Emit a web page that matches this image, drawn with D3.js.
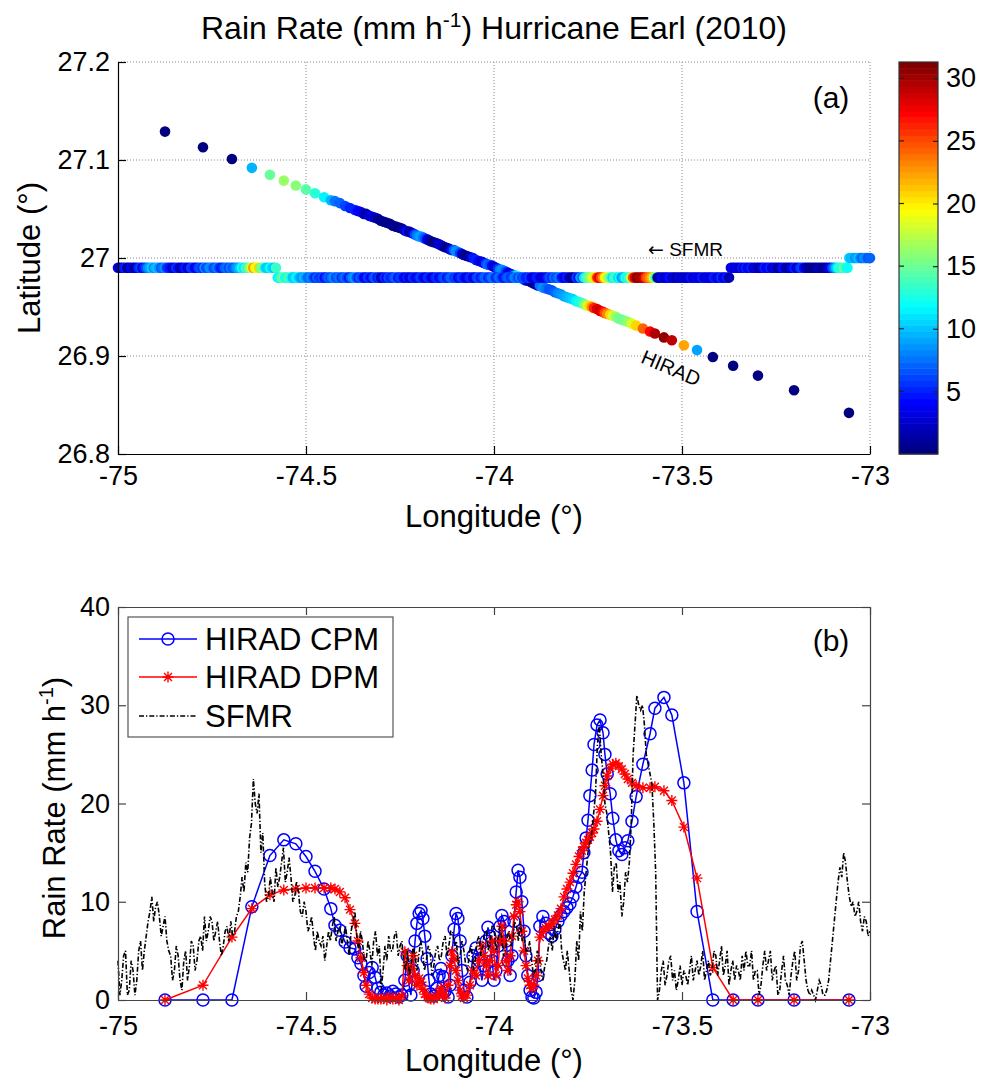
<!DOCTYPE html>
<html>
<head>
<meta charset="utf-8">
<script src="https://cdn.jsdelivr.net/npm/d3@7"></script>
<style>
body { margin: 0; background: #fff; }
text { font-family: "Liberation Sans", Arial, sans-serif; fill: #000; }
</style>
</head>
<body>
<svg width="985" height="1078"></svg>
<script>
var svg = d3.select("svg");

// HIRAD samples along the flight track
var hiradLon = [-74.875, -74.774, -74.697, -74.644, -74.596, -74.559, -74.527, -74.500, -74.476, -74.452,
    -74.434, -74.423, -74.410, -74.396, -74.383, -74.370, -74.362, -74.354, -74.346, -74.340,
    -74.332, -74.324, -74.316, -74.309, -74.301, -74.293, -74.285, -74.277, -74.269, -74.261,
    -74.253, -74.245, -74.237, -74.231, -74.226, -74.221, -74.215, -74.210, -74.205, -74.199,
    -74.194, -74.189, -74.184, -74.178, -74.173, -74.168, -74.160, -74.152, -74.146, -74.141,
    -74.136, -74.130, -74.122, -74.117, -74.112, -74.106, -74.101, -74.096, -74.090, -74.085,
    -74.080, -74.072, -74.064, -74.056, -74.048, -74.040, -74.032, -74.027, -74.021, -74.016,
    -74.011, -74.005, -74.000, -73.995, -73.989, -73.984, -73.979, -73.973, -73.968, -73.963,
    -73.957, -73.952, -73.947, -73.941, -73.936, -73.931, -73.926, -73.920, -73.915, -73.910,
    -73.904, -73.899, -73.894, -73.888, -73.883, -73.878, -73.870, -73.862, -73.854, -73.846,
    -73.838, -73.830, -73.822, -73.814, -73.806, -73.798, -73.790, -73.782, -73.774, -73.766,
    -73.761, -73.755, -73.750, -73.745, -73.739, -73.734, -73.726, -73.718, -73.710, -73.705,
    -73.699, -73.691, -73.684, -73.676, -73.668, -73.660, -73.652, -73.644, -73.633, -73.622,
    -73.604, -73.585, -73.572, -73.548, -73.527, -73.495, -73.460, -73.418, -73.364, -73.298,
    -73.202, -73.056];

var hiradLat = [27.129, 27.113, 27.101, 27.092, 27.085, 27.079, 27.074, 27.070, 27.066, 27.062,
    27.059, 27.058, 27.056, 27.053, 27.051, 27.049, 27.048, 27.047, 27.045, 27.045,
    27.043, 27.042, 27.041, 27.040, 27.038, 27.037, 27.036, 27.035, 27.033, 27.032,
    27.031, 27.030, 27.028, 27.027, 27.027, 27.026, 27.025, 27.024, 27.023, 27.022,
    27.022, 27.021, 27.020, 27.019, 27.018, 27.017, 27.016, 27.015, 27.014, 27.013,
    27.012, 27.011, 27.010, 27.009, 27.008, 27.008, 27.007, 27.006, 27.005, 27.004,
    27.003, 27.002, 27.001, 27.000, 26.998, 26.997, 26.996, 26.995, 26.994, 26.993,
    26.993, 26.992, 26.991, 26.990, 26.989, 26.988, 26.988, 26.987, 26.986, 26.985,
    26.984, 26.983, 26.982, 26.982, 26.981, 26.980, 26.979, 26.978, 26.977, 26.977,
    26.976, 26.975, 26.974, 26.973, 26.972, 26.972, 26.970, 26.969, 26.968, 26.967,
    26.965, 26.964, 26.963, 26.961, 26.960, 26.959, 26.958, 26.956, 26.955, 26.954,
    26.953, 26.952, 26.951, 26.951, 26.950, 26.949, 26.948, 26.946, 26.945, 26.944,
    26.943, 26.942, 26.941, 26.940, 26.938, 26.937, 26.936, 26.935, 26.933, 26.931,
    26.928, 26.925, 26.923, 26.919, 26.916, 26.911, 26.906, 26.899, 26.890, 26.880,
    26.865, 26.842];

var hiradCPM = [0, 0, 0, 9.5, 14.7, 16.3, 15.9, 14.6, 13.1, 11.3,
    9.3, 7.6, 7.1, 5.9, 5.3, 5.2, 4.3, 3.7, 2.5, 1.4,
    2.8, 3.3, 2.3, 1.2, 0.8, 0.5, 0.7, 0.4, 0.9, 0.6,
    0.3, 0.5, 2.0, 4.5, 1.5, 0.5, 3.0, 6.0, 7.8, 8.8,
    9.1, 8.3, 6.5, 4.2, 2.0, 0.6, 0.4, 1.2, 2.5, 3.2,
    2.4, 0.9, 0.3, 1.5, 4.5, 7.2, 8.8, 8.3, 6.0, 3.0,
    1.0, 0.3, 1.8, 4.5, 5.3, 4.0, 2.0, 3.5, 6.0, 7.4,
    6.5, 4.0, 2.0, 3.0, 5.5, 7.5, 8.6, 8.0, 6.0, 4.0,
    2.5, 4.5, 8.0, 11.0, 13.2, 12.5, 10.0, 7.0, 4.5, 2.5,
    1.0, 0.3, 0.2, 0.8, 2.5, 7.5, 8.5, 7.8, 6.8, 6.5,
    7.2, 8.0, 8.6, 9.0, 9.4, 9.8, 10.5, 11.5, 12.5, 13.0,
    15.0, 16.5, 18.3, 20.8, 23.4, 26.0, 28.0, 28.5, 27.2, 25.0,
    23.0, 21.0, 18.5, 16.3, 15.2, 14.8, 15.5, 16.2, 18.2, 20.7,
    24.0, 27.1, 29.7, 30.8, 29.0, 22.1, 9.0, 0, 0, 0,
    0, 0];

var hiradDPM = [0, 1.5, 6.4, 9.3, 10.7, 11.2, 11.3, 11.4, 11.4, 11.4,
    11.4, 11.3, 11.0, 10.4, 9.2, 7.8, 6.0, 4.3, 2.8, 1.5,
    0.6, 0.2, 0.1, 0.1, 0.1, 0.2, 0, 0.3, 0.1, 0.2,
    0, 0.4, 4.9, 3.5, 2.0, 3.2, 4.5, 2.5, 1.5, 2.2,
    1.8, 1.1, 0.6, 0.3, 0.2, 0.1, 0.1, 0.3, 0.8, 1.2,
    0.6, 0.2, 1.5, 3.5, 4.9, 4.2, 3.0, 2.0, 1.0, 0.4,
    0.2, 0.5, 1.5, 3.0, 2.5, 4.0, 5.5, 4.5, 3.5, 2.5,
    4.0, 6.0, 5.0, 2.5, 3.5, 6.0, 7.5, 6.0, 4.0, 3.0,
    4.5, 6.5, 8.5, 9.7, 10.0, 9.0, 7.0, 5.0, 3.5, 2.2,
    1.5, 1.2, 1.5, 2.5, 4.0, 6.4, 7.0, 7.3, 7.5, 7.8,
    8.2, 8.6, 9.3, 10.5, 11.3, 12.0, 12.9, 13.8, 14.6, 15.2,
    15.6, 16.0, 16.3, 16.6, 17.0, 17.4, 18.2, 19.4, 20.8, 21.8,
    22.8, 23.6, 24.0, 24.1, 23.8, 23.5, 23.0, 22.5, 22.1, 21.8,
    21.6, 21.6, 21.7, 21.3, 20.3, 17.6, 12.4, 3.3, 0, 0,
    0, 0];

// SFMR rain rate every 0.005 deg of longitude, from -75 to -73
var sfmrRain = [4, 0.5, 2, 4.5, 5, 0.5, 1, 4, 3, 0.5, 2, 5, 6, 3, 5, 6.5, 8, 9, 10.5, 8,
    9.5, 10, 8.5, 6.5, 7.5, 8.5, 6, 5, 4.5, 2, 3, 5.5, 4.5, 2, 1, 4, 5, 2, 3.5, 6,
    5.5, 3, 4, 6, 6.5, 5, 8.5, 6, 7, 8.5, 8, 6, 7, 8, 6, 4.5, 5.5, 7, 7.5, 6,
    8, 6.5, 7, 8.5, 9, 10.5, 12.5, 11, 14, 13, 16.5, 18, 22.5, 20, 19, 21, 15, 17, 12, 10,
    10.5, 12.5, 11, 10, 13.5, 11.5, 12.5, 14, 15.5, 12, 13, 14.5, 12.5, 10, 10.5, 12, 11, 9, 8.5, 10,
    9, 7, 7.5, 8.5, 6.5, 5, 7, 6, 5.5, 6.5, 4, 5.5, 7, 6, 7.5, 8.5, 6, 7, 7.5, 5.5,
    6.5, 7.5, 6, 4.5, 7, 8, 9, 6.5, 5, 7, 6, 4, 4, 6, 5, 3.5, 6, 7, 4.5, 5.5,
    1, 3, 5.5, 4, 6.5, 5, 5, 6.5, 7, 4.5, 5.5, 6, 4, 3, 5, 2.5, 3.5, 5.5, 4.5, 3,
    4.5, 6, 5, 3, 4, 5.5, 5, 2.5, 3.5, 5, 5.5, 4, 4.5, 6, 6.5, 4.5, 5.5, 7, 7, 5.5,
    6, 3.5, 4.5, 6, 5, 3.5, 3, 5, 5.5, 3, 4, 6, 6.5, 4.5, 5.5, 7, 7, 5, 6, 7.5,
    7.5, 5, 6, 7.5, 6.5, 4.5, 5, 6.5, 7, 5.5, 6, 8, 7.5, 6, 8, 6, 6.5, 5, 5, 6,
    4, 2.5, 3, 5, 4.5, 3, 2, 3.5, 4, 5.5, 6.5, 5, 7.5, 6, 7, 8, 5, 4, 3, 5,
    3, 1, 0, 2, 6, 4, 9, 7, 11, 13, 15, 16, 17, 19, 21, 26, 28, 25, 23, 20,
    19, 17, 15, 11, 13.5, 14, 11, 12, 8.5, 10, 13, 12, 14, 18, 25, 28, 31, 30, 29.5, 30,
    28, 25, 24, 23, 22, 18, 13, 0, 1, 3, 4, 1.5, 2.5, 4, 4.5, 2, 3, 1, 2, 3.5,
    1.5, 3, 2.5, 1.5, 3, 4.5, 2, 3, 4, 2.5, 3.5, 5, 2, 3, 4, 2.5, 3, 5, 4.5, 2.5,
    4, 5.5, 2.5, 3.5, 5, 1.5, 3, 4, 2, 3.5, 3, 2, 4.5, 3, 5, 3.5, 3.5, 5, 2, 3,
    3, 0.5, 1.5, 3.5, 5, 3, 4, 5, 2, 3, 3.5, 0.5, 1, 3, 4.5, 2, 1.5, 0.5, 2.5, 4,
    5, 2, 3, 5.5, 6, 4, 2, 1, 0.5, 1, 0.5, 0, 1, 2, 1.5, 0.5, 0.5, 1, 2, 4,
    6, 8, 10, 12, 13.5, 12.5, 15, 14, 12, 10.5, 9.5, 10, 8.5, 9, 10, 8, 7, 8.5, 8, 6.5,
    7];
var sfmrLonStart = -75;
var sfmrLonStep = 0.005;
// SFMR track latitude: start longitude of each level leg
var sfmrLegLon = [-75, -74.575, -73.37, -73.055];
var sfmrLegLat = [26.99, 26.98, 26.99, 27.0];

var lonTicks = [-75, -74.5, -74, -73.5, -73];
var latTicks = [26.8, 26.9, 27, 27.1, 27.2];
var rainTicks = [0, 10, 20, 30, 40];
var cbarTicks = [5, 10, 15, 20, 25, 30];
var cbarMax = 31.3;

var sfmrLon = sfmrRain.map(function (d, i) { return +(sfmrLonStart + i * sfmrLonStep).toFixed(3); });
var legIndex = d3.bisector(function (d) { return d; }).right;
var sfmrLat = sfmrLon.map(function (lon) { return sfmrLegLat[Math.max(0, legIndex(sfmrLegLon, lon + 1e-9) - 1)]; });

var FONT = '"Liberation Sans", Arial, sans-serif';

// matlab jet, 64 levels
function jet(t) {
    var c = function (v) { return Math.max(0, Math.min(1, v)); };
    return d3.rgb(255 * c(Math.min(4 * t - 1.5, -4 * t + 4.5)),
                  255 * c(Math.min(4 * t - 0.5, -4 * t + 3.5)),
                  255 * c(Math.min(4 * t + 0.5, -4 * t + 2.5))).formatHex();
}
var jet64 = d3.range(64).map(function (k) { return jet(k / 63); });
var color = d3.scaleQuantize().domain([0, cbarMax]).range(jet64);

function styleAxis(g, size, stroke) {
    g.attr("font-size", size).attr("font-family", FONT);
    g.selectAll("path, line").attr("stroke", stroke).attr("stroke-width", 1.2);
    g.selectAll("text").attr("fill", "#000");
}

// ---------------- panel (a) ----------------
var x1 = d3.scaleLinear().domain([-75, -73]).range([118, 870]);
var y1 = d3.scaleLinear().domain([26.8, 27.2]).range([454, 62]);
var g1 = svg.append("g");

g1.selectAll(".vgrid").data(lonTicks.slice(1)).enter().append("line")
    .attr("x1", function (d) { return x1(d); }).attr("x2", function (d) { return x1(d); })
    .attr("y1", 62).attr("y2", 454)
    .attr("stroke", "#888").attr("stroke-width", 1).attr("stroke-dasharray", "1,2");
g1.selectAll(".hgrid").data(latTicks.slice(1)).enter().append("line")
    .attr("x1", 118).attr("x2", 870)
    .attr("y1", function (d) { return y1(d); }).attr("y2", function (d) { return y1(d); })
    .attr("stroke", "#888").attr("stroke-width", 1).attr("stroke-dasharray", "1,2");

g1.selectAll(".hirad").data(d3.range(hiradLon.length)).enter().append("circle")
    .attr("cx", function (i) { return x1(hiradLon[i]); })
    .attr("cy", function (i) { return y1(hiradLat[i]); })
    .attr("r", 5.3)
    .attr("fill", function (i) { return color(hiradCPM[i]); });

g1.selectAll(".sfmr").data(d3.range(sfmrLon.length)).enter().append("circle")
    .attr("cx", function (i) { return x1(sfmrLon[i]); })
    .attr("cy", function (i) { return y1(sfmrLat[i]); })
    .attr("r", 5.3)
    .attr("fill", function (i) { return color(sfmrRain[i]); });

var ax1 = g1.append("g").attr("transform", "translate(0,454)")
    .call(d3.axisBottom(x1).tickValues(lonTicks).tickSize(-8).tickSizeOuter(0).tickPadding(12).tickFormat(String));
styleAxis(ax1, 27, "#000");
var ay1 = g1.append("g").attr("transform", "translate(118,0)")
    .call(d3.axisLeft(y1).tickValues(latTicks).tickSize(-8).tickSizeOuter(0).tickPadding(8).tickFormat(String));
styleAxis(ay1, 27, "#000");

g1.append("text").attr("x", 494).attr("y", 527).attr("text-anchor", "middle")
    .attr("font-size", 31).text("Longitude (\u00b0)");
g1.append("text").attr("transform", "translate(40,258) rotate(-90)").attr("text-anchor", "middle")
    .attr("font-size", 31).text("Latitude (\u00b0)");
g1.append("text").attr("x", 831).attr("y", 108).attr("text-anchor", "middle")
    .attr("font-size", 30).text("(a)");
var sfLab = g1.append("text").attr("x", 648).attr("y", 256).attr("font-size", 19);
sfLab.append("tspan").attr("font-family", '"DejaVu Sans", sans-serif').text("\u2190");
sfLab.append("tspan").text(" SFMR");
g1.append("text").attr("transform", "translate(671,368) rotate(23)").attr("text-anchor", "middle")
    .attr("dy", "0.35em").attr("font-size", 20).text("HIRAD");

var title = svg.append("text").attr("x", 494).attr("y", 39).attr("text-anchor", "middle").attr("font-size", 32);
title.append("tspan").text("Rain Rate (mm h");
title.append("tspan").text("-1").attr("font-size", 21).attr("dy", -12);
title.append("tspan").text(") Hurricane Earl (2010)").attr("dy", 12);

// colorbar
var yc = d3.scaleLinear().domain([0, cbarMax]).range([454, 62]);
var cb = svg.append("g");
cb.selectAll("rect").data(jet64).enter().append("rect")
    .attr("x", 899).attr("width", 39)
    .attr("y", function (d, k) { return yc((k + 1) * cbarMax / 64); })
    .attr("height", function (d, k) { return yc(k * cbarMax / 64) - yc((k + 1) * cbarMax / 64) + 0.5; })
    .attr("fill", function (d) { return d; });
cb.append("rect").attr("x", 899).attr("y", 62).attr("width", 39).attr("height", 392)
    .attr("fill", "none").attr("stroke", "#333").attr("stroke-width", 1.2);
var acb = cb.append("g").attr("transform", "translate(938,0)")
    .call(d3.axisRight(yc).tickValues(cbarTicks).tickSize(-5).tickSizeOuter(0).tickPadding(8).tickFormat(String));
styleAxis(acb, 27, "#222");
acb.select(".domain").remove();
cb.selectAll(".ltick").data(cbarTicks).enter().append("line")
    .attr("x1", 899).attr("x2", 904)
    .attr("y1", function (d) { return yc(d); }).attr("y2", function (d) { return yc(d); })
    .attr("stroke", "#222").attr("stroke-width", 1.2);

// ---------------- panel (b) ----------------
var x2 = d3.scaleLinear().domain([-75, -73]).range([118, 870]);
var y2 = d3.scaleLinear().domain([0, 40]).range([1000, 607]);
var g2 = svg.append("g");
var idx = d3.range(hiradLon.length);

var lineCPM = d3.line().x(function (i) { return x2(hiradLon[i]); }).y(function (i) { return y2(hiradCPM[i]); });
var lineDPM = d3.line().x(function (i) { return x2(hiradLon[i]); }).y(function (i) { return y2(hiradDPM[i]); });
var lineSFMR = d3.line().x(function (d, i) { return x2(sfmrLon[i]); }).y(function (d) { return y2(d); });

function asterisk(s) {
    var d = s * 0.72;
    return "M" + (-s) + ",0L" + s + ",0M0," + (-s) + "L0," + s +
        "M" + (-d) + "," + (-d) + "L" + d + "," + d + "M" + (-d) + "," + d + "L" + d + "," + (-d);
}

g2.append("path").attr("d", lineCPM(idx)).attr("fill", "none").attr("stroke", "#0000ff").attr("stroke-width", 1.5);
g2.selectAll(".cpm").data(idx).enter().append("circle")
    .attr("cx", function (i) { return x2(hiradLon[i]); })
    .attr("cy", function (i) { return y2(hiradCPM[i]); })
    .attr("r", 6).attr("fill", "none").attr("stroke", "#0000ff").attr("stroke-width", 1.5);

g2.append("path").attr("d", lineDPM(idx)).attr("fill", "none").attr("stroke", "#ff0000").attr("stroke-width", 1.5);
g2.selectAll(".dpm").data(idx).enter().append("path")
    .attr("transform", function (i) { return "translate(" + x2(hiradLon[i]) + "," + y2(hiradDPM[i]) + ")"; })
    .attr("d", asterisk(5.5)).attr("fill", "none").attr("stroke", "#ff0000").attr("stroke-width", 1.4);

g2.append("path").attr("d", lineSFMR(sfmrRain)).attr("fill", "none").attr("stroke", "#000")
    .attr("stroke-width", 1.6).attr("stroke-dasharray", "5,2,1.3,2");

var ax2 = g2.append("g").attr("transform", "translate(0,1000)")
    .call(d3.axisBottom(x2).tickValues(lonTicks).tickSize(-8).tickSizeOuter(0).tickPadding(16).tickFormat(String));
styleAxis(ax2, 27, "#444");
var ax2t = g2.append("g").attr("transform", "translate(0,607)")
    .call(d3.axisTop(x2).tickValues(lonTicks).tickSize(-8).tickSizeOuter(0).tickFormat(""));
styleAxis(ax2t, 27, "#444");
var ay2 = g2.append("g").attr("transform", "translate(118,0)")
    .call(d3.axisLeft(y2).tickValues(rainTicks).tickSize(-8).tickSizeOuter(0).tickPadding(8).tickFormat(String));
styleAxis(ay2, 27, "#444");
var ay2r = g2.append("g").attr("transform", "translate(870,0)")
    .call(d3.axisRight(y2).tickValues(rainTicks).tickSize(-8).tickSizeOuter(0).tickFormat(""));
styleAxis(ay2r, 27, "#444");

g2.append("text").attr("x", 494).attr("y", 1071).attr("text-anchor", "middle")
    .attr("font-size", 31).text("Longitude (\u00b0)");
var yl2 = g2.append("text").attr("transform", "translate(65,808) rotate(-90)").attr("text-anchor", "middle")
    .attr("font-size", 31);
yl2.append("tspan").text("Rain Rate (mm h");
yl2.append("tspan").text("-1").attr("font-size", 20).attr("dy", -12);
yl2.append("tspan").text(")").attr("dy", 12);
g2.append("text").attr("x", 831).attr("y", 651).attr("text-anchor", "middle")
    .attr("font-size", 30).text("(b)");

// legend
var lg = g2.append("g");
lg.append("rect").attr("x", 128).attr("y", 617).attr("width", 265).attr("height", 120)
    .attr("fill", "#fff").attr("stroke", "#555").attr("stroke-width", 1.2);
var legendNames = ["HIRAD CPM", "HIRAD DPM", "SFMR"];
var legendY = [639, 677, 716];
lg.selectAll(".lt").data(legendNames).enter().append("text")
    .attr("x", 205).attr("y", function (d, i) { return legendY[i] + 11; })
    .attr("font-size", 31).text(function (d) { return d; });
lg.append("line").attr("x1", 139).attr("x2", 197).attr("y1", legendY[0]).attr("y2", legendY[0])
    .attr("stroke", "#0000ff").attr("stroke-width", 1.5);
lg.append("circle").attr("cx", 168).attr("cy", legendY[0]).attr("r", 6)
    .attr("fill", "none").attr("stroke", "#0000ff").attr("stroke-width", 1.5);
lg.append("line").attr("x1", 139).attr("x2", 197).attr("y1", legendY[1]).attr("y2", legendY[1])
    .attr("stroke", "#ff0000").attr("stroke-width", 1.5);
lg.append("path").attr("transform", "translate(168," + legendY[1] + ")").attr("d", asterisk(5.5))
    .attr("fill", "none").attr("stroke", "#ff0000").attr("stroke-width", 1.4);
lg.append("line").attr("x1", 139).attr("x2", 197).attr("y1", legendY[2]).attr("y2", legendY[2])
    .attr("stroke", "#000").attr("stroke-width", 1.6).attr("stroke-dasharray", "5,2,1.3,2");
</script>
</body>
</html>
